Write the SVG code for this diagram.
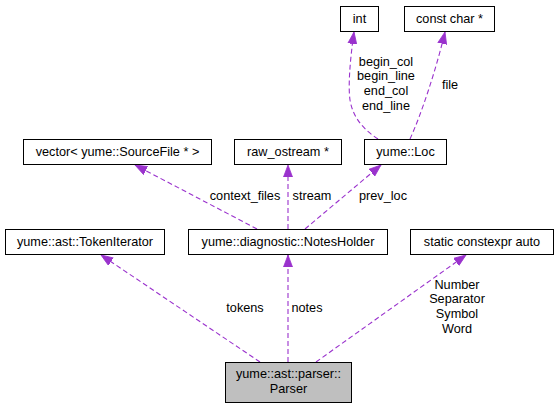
<svg xmlns="http://www.w3.org/2000/svg" width="557" height="408" viewBox="0 0 557 408">
<style>
.n rect{fill:#fff;stroke:#000;stroke-width:1}
.n.cur rect{fill:#bfbfbf}
text{font-family:"Liberation Sans",Arial,sans-serif;font-size:12.7px;fill:#000;text-anchor:middle}
.e path{fill:none;stroke:#9a32cd;stroke-width:1.1;stroke-dasharray:5,3;marker-end:url(#ah)}
</style>
<defs>
<marker id="ah" markerUnits="userSpaceOnUse" markerWidth="13" markerHeight="10" refX="12" refY="4.5" orient="auto" viewBox="0 0 13 9">
<path d="M0,0 L12,4.5 L0,9 z" fill="#9a32cd" stroke="#9a32cd" stroke-width="0.8"/>
</marker>
</defs>
<rect width="557" height="408" fill="#fff"/>
<g id="edges" class="e">
<path d="M378,139 C364,130 353,118 350,100 C348,86 350,60 354,32"/>
<path d="M410,139 C421,115 436,70 445,32"/>
<path d="M257,229 L135,165"/>
<path d="M288,229 L288,165"/>
<path d="M305,229 L381,165"/>
<path d="M260,362 L101,255"/>
<path d="M288,362 L288,255"/>
<path d="M316,362 L466,255"/>
</g>
<g id="labels">
<text x="386" y="65.5">begin_col</text>
<text x="386" y="80.3">begin_line</text>
<text x="386" y="95.1">end_col</text>
<text x="386" y="109.9">end_line</text>
<text x="450" y="88.5">file</text>
<text x="245" y="199.5">context_files</text>
<text x="312" y="199.5">stream</text>
<text x="383" y="199.5">prev_loc</text>
<text x="245" y="311.5">tokens</text>
<text x="307" y="311.5">notes</text>
<text x="457" y="288.7">Number</text>
<text x="457" y="303.4">Separator</text>
<text x="457" y="318.1">Symbol</text>
<text x="457" y="332.8">Word</text>
</g>
<g id="n_int" class="n"><rect x="340.5" y="6.5" width="38" height="25"/><text x="359.5" y="23.3">int</text></g>
<g id="n_constchar" class="n"><rect x="404.5" y="6.5" width="90" height="25"/><text x="449.5" y="23.3">const char *</text></g>
<g id="n_loc" class="n"><rect x="364.5" y="139.5" width="82" height="25"/><text x="405.5" y="156.3">yume::Loc</text></g>
<g id="n_rawostream" class="n"><rect x="234.5" y="139.5" width="107" height="25"/><text x="288" y="156.3">raw_ostream *</text></g>
<g id="n_vector" class="n"><rect x="23.5" y="139.5" width="188" height="25"/><text x="117.5" y="156.3">vector&lt; yume::SourceFile * &gt;</text></g>
<g id="n_tokeniter" class="n"><rect x="5.5" y="229.5" width="159" height="25"/><text x="85" y="246.3">yume::ast::TokenIterator</text></g>
<g id="n_notes" class="n"><rect x="188.5" y="229.5" width="199" height="25"/><text x="288" y="246.3">yume::diagnostic::NotesHolder</text></g>
<g id="n_static" class="n"><rect x="410.5" y="229.5" width="143" height="25"/><text x="482" y="246.3">static constexpr auto</text></g>
<g id="n_parser" class="n cur"><rect x="225.5" y="362.5" width="126" height="40"/><text x="288.5" y="377.8">yume::ast::parser::</text><text x="288.5" y="393">Parser</text></g>
</svg>
